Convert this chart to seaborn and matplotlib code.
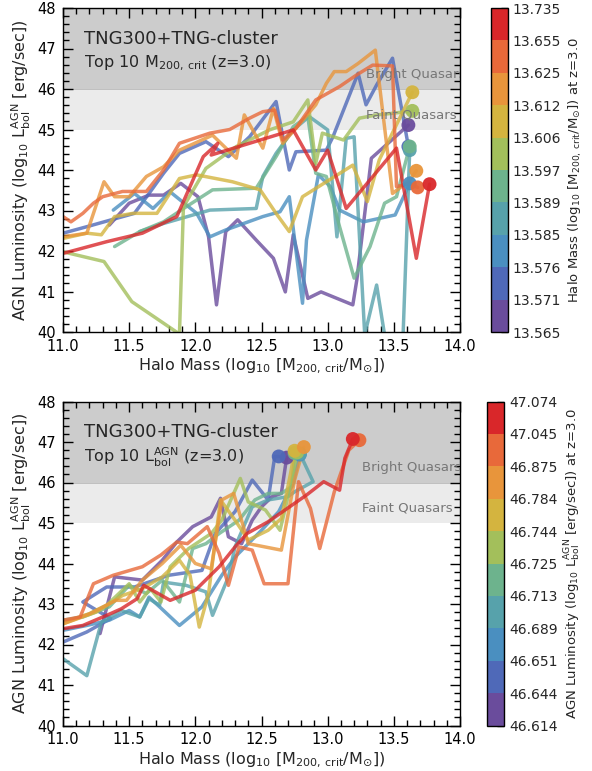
import numpy as np
import pandas as pd
import matplotlib
matplotlib.use("Agg")
import matplotlib.pyplot as plt
import seaborn as sns
from matplotlib.colors import ListedColormap, BoundaryNorm
from matplotlib.cm import ScalarMappable
from matplotlib.ticker import MultipleLocator

sns.set_style("ticks")
plt.rcParams['font.family'] = ['DejaVu Sans']
plt.rcParams['mathtext.fontset'] = 'dejavusans'

# ---------------- colours / colourbar ticks ----------------
palette = ["#6a4c9c", "#4f69b8", "#4a8fc0", "#57a2ab", "#6db38d",
           "#a3bf5b", "#d4b43f", "#e8953b", "#e8693a", "#d9272a"]
mass_ticks = [13.565, 13.571, 13.576, 13.585, 13.589, 13.597, 13.606,
              13.612, 13.625, 13.655, 13.735]
lum_ticks = [46.614, 46.644, 46.651, 46.689, 46.713, 46.725, 46.744,
             46.784, 46.875, 47.045, 47.074]

# ---------------- top panel: top 10 by halo mass ----------------
t1_x = [11.35, 11.50, 11.65, 11.76, 11.89, 12.02, 12.10, 12.16, 12.23, 12.32, 12.46, 12.59, 12.68, 12.74, 12.85, 12.95, 13.19, 13.22, 13.33, 13.61]
t1_y = [42.64, 43.18, 43.38, 43.38, 43.67, 43.34, 42.35, 40.67, 42.48, 42.77, 42.27, 41.82, 40.99, 42.40, 40.83, 40.99, 40.67, 41.28, 44.29, 45.11]
t2_x = [11.0, 11.18, 11.54, 11.65, 11.76, 11.88, 12.08, 12.25, 12.41, 12.61, 12.71, 12.76, 12.99, 13.04, 13.23, 13.29, 13.37, 13.49, 13.61]
t2_y = [42.44, 42.60, 42.93, 43.42, 43.92, 44.41, 44.70, 44.33, 44.82, 45.69, 44.00, 44.45, 44.49, 44.82, 46.39, 45.61, 46.10, 46.76, 44.58]
t3_x = [11.38, 11.54, 11.68, 11.81, 12.01, 12.11, 12.23, 12.51, 12.64, 12.71, 12.81, 12.84, 12.93, 13.02, 13.09, 13.27, 13.51, 13.62]
t3_y = [43.01, 43.42, 43.05, 43.46, 42.93, 42.35, 42.52, 42.85, 42.97, 43.34, 40.71, 42.27, 43.88, 43.59, 43.01, 42.72, 42.89, 43.67]
t4_x = [11.58, 11.76, 12.11, 12.46, 12.51, 12.61, 12.74, 12.86, 13.00, 13.07, 13.14, 13.20, 13.28, 13.37, 13.43, 13.57, 13.62]
t4_y = [42.48, 42.68, 43.01, 43.05, 43.84, 44.41, 44.99, 45.32, 44.99, 42.35, 44.78, 44.82, 39.93, 41.16, 39.93, 39.93, 44.49]
t5_x = [11.39, 11.58, 11.76, 11.93, 12.13, 12.46, 12.61, 12.74, 12.85, 12.91, 12.99, 13.09, 13.20, 13.32, 13.43, 13.52, 13.62]
t5_y = [42.11, 42.48, 42.72, 43.09, 43.51, 43.55, 44.33, 45.07, 45.32, 43.92, 43.84, 42.60, 41.33, 42.11, 43.18, 43.34, 44.58]
t6_x = [11.0, 11.31, 11.52, 11.88, 11.91, 12.08, 12.31, 12.56, 12.74, 12.85, 12.91, 12.96, 13.12, 13.24, 13.37, 13.49, 13.64]
t6_y = [41.98, 41.74, 40.75, 39.95, 43.09, 44.04, 44.58, 44.99, 45.19, 45.73, 44.16, 44.91, 44.74, 45.28, 45.36, 45.40, 45.46]
t7_x = [11.0, 11.18, 11.29, 11.39, 11.53, 11.71, 11.88, 12.01, 12.28, 12.49, 12.61, 12.71, 12.81, 13.19, 13.30, 13.39, 13.64]
t7_y = [42.31, 42.44, 42.40, 42.85, 42.93, 42.93, 43.79, 43.88, 43.71, 43.51, 42.93, 42.48, 43.34, 44.12, 43.22, 44.25, 45.92]
t8_x = [11.0, 11.18, 11.31, 11.39, 11.50, 11.63, 11.76, 11.88, 12.13, 12.31, 12.37, 12.51, 12.59, 12.66, 12.76, 12.91, 12.99, 13.05, 13.14, 13.23, 13.36, 13.49, 13.62, 13.67]
t8_y = [42.35, 42.44, 43.71, 43.34, 43.34, 43.84, 44.08, 44.49, 44.86, 44.29, 45.36, 44.54, 45.52, 44.66, 45.03, 45.61, 46.14, 46.43, 46.43, 46.63, 46.96, 43.42, 43.75, 43.98]
t9_x = [11.0, 11.06, 11.15, 11.23, 11.30, 11.45, 11.63, 11.76, 11.88, 12.11, 12.26, 12.41, 12.51, 12.60, 12.66, 12.76, 12.91, 13.09, 13.22, 13.34, 13.49, 13.52, 13.62, 13.68]
t9_y = [42.85, 42.72, 42.93, 43.18, 43.34, 43.47, 43.47, 44.00, 44.66, 44.91, 45.00, 45.28, 45.44, 45.48, 44.74, 45.03, 45.73, 46.06, 46.35, 46.59, 46.57, 43.59, 43.67, 43.57]
t10_x = [11.0, 11.33, 11.60, 11.86, 12.06, 12.17, 12.12, 12.74, 12.91, 13.00, 13.14, 13.52, 13.67, 13.77]
t10_y = [41.94, 42.23, 42.44, 42.85, 44.33, 44.66, 44.37, 44.99, 44.00, 44.49, 43.05, 44.54, 41.82, 43.65]

# ---------------- bottom panel: top 10 by AGN luminosity ----------------
b1_x = [11.28, 11.39, 11.60, 11.75, 11.86, 11.98, 12.12, 12.19, 12.25, 12.35, 12.43, 12.50, 12.58, 12.65, 12.69]
b1_y = [42.27, 43.67, 43.59, 44.08, 44.53, 44.91, 45.15, 45.61, 44.66, 44.49, 45.07, 45.40, 45.65, 45.73, 46.614]
b2_x = [11.0, 11.18, 11.36, 11.15, 11.33, 11.54, 11.80, 12.05, 12.15, 12.30, 12.43, 12.55, 12.60, 12.63]
b2_y = [42.06, 42.31, 42.64, 43.05, 43.42, 43.42, 43.71, 43.83, 44.74, 45.28, 46.06, 45.57, 46.64, 46.644]
b3_x = [11.0, 11.18, 11.35, 11.50, 11.58, 11.65, 11.73, 11.88, 12.05, 12.20, 12.30, 12.50, 12.63, 12.74, 12.79]
b3_y = [42.35, 42.47, 42.60, 42.84, 42.68, 43.17, 42.93, 42.47, 42.93, 43.71, 44.16, 44.82, 45.28, 45.98, 46.689]
b4_x = [11.0, 11.18, 11.29, 11.44, 11.58, 11.65, 11.73, 11.76, 11.93, 12.08, 12.13, 12.25, 12.30, 12.43, 12.55, 12.70, 12.75, 12.89, 12.79]
b4_y = [41.65, 41.23, 42.55, 42.84, 42.68, 43.13, 42.97, 43.54, 43.46, 43.30, 42.72, 43.67, 44.41, 45.40, 45.57, 45.65, 45.77, 46.02, 46.713]
b5_x = [11.0, 11.15, 11.35, 11.50, 11.63, 11.75, 11.88, 11.98, 12.08, 12.18, 12.33, 12.45, 12.55, 12.65, 12.73, 12.75]
b5_y = [42.60, 42.68, 42.93, 43.46, 43.26, 43.59, 43.05, 44.37, 44.49, 44.74, 45.07, 45.57, 45.73, 45.73, 45.90, 46.725]
b6_x = [11.0, 11.20, 11.33, 11.50, 11.58, 11.66, 11.74, 11.81, 11.95, 12.12, 12.20, 12.34, 12.40, 12.53, 12.64, 12.73, 12.77]
b6_y = [42.55, 42.76, 42.97, 43.50, 43.05, 43.38, 43.05, 43.92, 44.37, 44.74, 45.07, 46.10, 45.52, 45.32, 44.82, 46.06, 46.744]
b7_x = [11.0, 11.25, 11.45, 11.60, 11.75, 11.88, 11.96, 12.03, 12.10, 12.19, 12.30, 12.40, 12.55, 12.65, 12.72, 12.75]
b7_y = [42.51, 42.80, 43.21, 43.38, 43.67, 44.08, 43.71, 42.43, 43.26, 45.57, 45.07, 44.58, 44.82, 45.11, 46.23, 46.784]
b8_x = [11.0, 11.20, 11.40, 11.48, 11.60, 11.75, 11.89, 12.00, 12.12, 12.20, 12.29, 12.40, 12.65, 12.75, 12.82]
b8_y = [42.51, 42.76, 43.09, 43.09, 43.59, 44.00, 44.45, 44.00, 43.87, 45.57, 45.73, 44.49, 44.33, 46.06, 46.875]
b9_x = [11.0, 11.13, 11.23, 11.38, 11.60, 11.74, 11.86, 11.94, 12.09, 12.18, 12.25, 12.33, 12.43, 12.52, 12.70, 12.78, 12.87, 12.94, 13.05, 13.16, 13.24]
b9_y = [42.60, 42.68, 43.50, 43.71, 43.92, 44.21, 44.53, 44.49, 44.91, 44.25, 43.46, 44.41, 44.33, 43.50, 43.50, 46.02, 45.36, 44.37, 45.77, 46.80, 47.045]
b10_x = [11.0, 11.15, 11.33, 11.44, 11.56, 11.61, 11.81, 12.00, 12.18, 12.30, 12.39, 12.55, 12.73, 12.84, 12.97, 13.09, 13.13, 13.19]
b10_y = [42.39, 42.47, 42.72, 42.88, 43.13, 43.46, 43.09, 43.34, 43.92, 44.41, 44.74, 45.03, 45.44, 45.69, 46.02, 45.81, 46.60, 47.074]

top_xs = [t1_x, t2_x, t3_x, t4_x, t5_x, t6_x, t7_x, t8_x, t9_x, t10_x]
top_ys = [t1_y, t2_y, t3_y, t4_y, t5_y, t6_y, t7_y, t8_y, t9_y, t10_y]
bot_xs = [b1_x, b2_x, b3_x, b4_x, b5_x, b6_x, b7_x, b8_x, b9_x, b10_x]
bot_ys = [b1_y, b2_y, b3_y, b4_y, b5_y, b6_y, b7_y, b8_y, b9_y, b10_y]


def make_df(xs, ys):
    rows = []
    for i, (xx, yy) in enumerate(zip(xs, ys)):
        for j, (a, b) in enumerate(zip(xx, yy)):
            rows.append({"halo": i, "step": j, "mass": a, "lum": b})
    return pd.DataFrame(rows)


W, H = 592, 771
fig = plt.figure(figsize=(W / 100, H / 100), dpi=100)

panels = [
    dict(xs=top_xs, ys=top_ys, ticks=mass_ticks, top=8, cb_left=491,
         sub=r"Top 10 M$_{200,\,\mathrm{crit}}$ (z=3.0)",
         cblabel=r"Halo Mass (log$_{10}$ [M$_{200,\,\mathrm{crit}}$/M$_{\odot}$]) at z=3.0",
         bq=46.35, fq=45.36, txt_x=13.29),
    dict(xs=bot_xs, ys=bot_ys, ticks=lum_ticks, top=401.5, cb_left=487,
         sub=r"Top 10 L$^{\mathrm{AGN}}_{\mathrm{bol}}$ (z=3.0)",
         cblabel=r"AGN Luminosity (log$_{10}$ L$^{\mathrm{AGN}}_{\mathrm{bol}}$ [erg/sec]) at z=3.0",
         bq=46.38, fq=45.37, txt_x=13.26),
]

cmap = ListedColormap(palette)

for p in panels:
    ax_h = 324
    ax = fig.add_axes([63 / W, 1 - (p["top"] + ax_h) / H, 397 / W, ax_h / H])
    ax.axhspan(46, 48, color="#cccccc", zorder=0, lw=0)
    ax.axhspan(45, 46, color="#ebebeb", zorder=0, lw=0)
    ax.axhline(46, color="#b8b8b8", lw=0.6, zorder=0.5)

    df = make_df(p["xs"], p["ys"])
    sns.lineplot(data=df, x="mass", y="lum", hue="halo", units="halo",
                 estimator=None, sort=False, palette=palette,
                 hue_order=list(range(10)), lw=2.5, alpha=0.8,
                 legend=False, ax=ax)
    last = df.sort_values("step").groupby("halo").tail(1).sort_values("halo")
    sns.scatterplot(data=last, x="mass", y="lum", hue="halo", palette=palette,
                    hue_order=list(range(10)), s=100, alpha=0.95,
                    edgecolor="none", legend=False, ax=ax, zorder=5)

    ax.set_xlim(11.0, 14.0)
    ax.set_ylim(40, 48)
    ax.xaxis.set_major_locator(MultipleLocator(0.5))
    ax.xaxis.set_minor_locator(MultipleLocator(0.1))
    ax.yaxis.set_major_locator(MultipleLocator(1))
    ax.yaxis.set_minor_locator(MultipleLocator(0.2))
    ax.tick_params(which="both", direction="in", top=True, right=True,
                   width=1.0, labelsize=10.5, colors="black")
    ax.tick_params(axis="x", which="major", pad=5)
    ax.tick_params(axis="y", which="major", pad=5)
    ax.tick_params(which="major", length=7)
    ax.tick_params(which="minor", length=4)
    for sp in ax.spines.values():
        sp.set_linewidth(1.0)
        sp.set_color("black")
    ax.set_xlabel(r"Halo Mass (log$_{10}$ [M$_{200,\,\mathrm{crit}}$/M$_{\odot}$])",
                  fontsize=11.5, labelpad=2)
    ax.set_ylabel(r"AGN Luminosity (log$_{10}$ L$^{\mathrm{AGN}}_{\mathrm{bol}}$ [erg/sec])",
                  fontsize=11.5, labelpad=3)

    ax.text(0.053, 0.905, "TNG300+TNG-cluster", transform=ax.transAxes,
            fontsize=13, va="center", ha="left")
    ax.text(0.053, 0.828, p["sub"], transform=ax.transAxes,
            fontsize=11.5, va="center", ha="left")
    ax.text(p["txt_x"], p["bq"], "Bright Quasars", fontsize=9.5, color="#777777",
            va="center", ha="left", clip_on=True, zorder=6)
    ax.text(p["txt_x"], p["fq"], "Faint Quasars", fontsize=9.5, color="#777777",
            va="center", ha="left", clip_on=True, zorder=6)

    cax = fig.add_axes([p["cb_left"] / W, 1 - (p["top"] + ax_h) / H, 17 / W, ax_h / H])
    bounds = np.arange(len(p["ticks"]))
    norm = BoundaryNorm(bounds, cmap.N)
    cb = fig.colorbar(ScalarMappable(norm=norm, cmap=cmap), cax=cax, ticks=bounds)
    cb.set_ticklabels([f"{v:.3f}" for v in p["ticks"]])
    cb.outline.set_linewidth(1.0)
    cb.outline.set_edgecolor("black")
    cax.tick_params(direction="in", length=5, width=1.0, labelsize=10)
    cb.set_label(p["cblabel"], fontsize=9.5, labelpad=4)

fig.savefig("out.png", dpi=100)
